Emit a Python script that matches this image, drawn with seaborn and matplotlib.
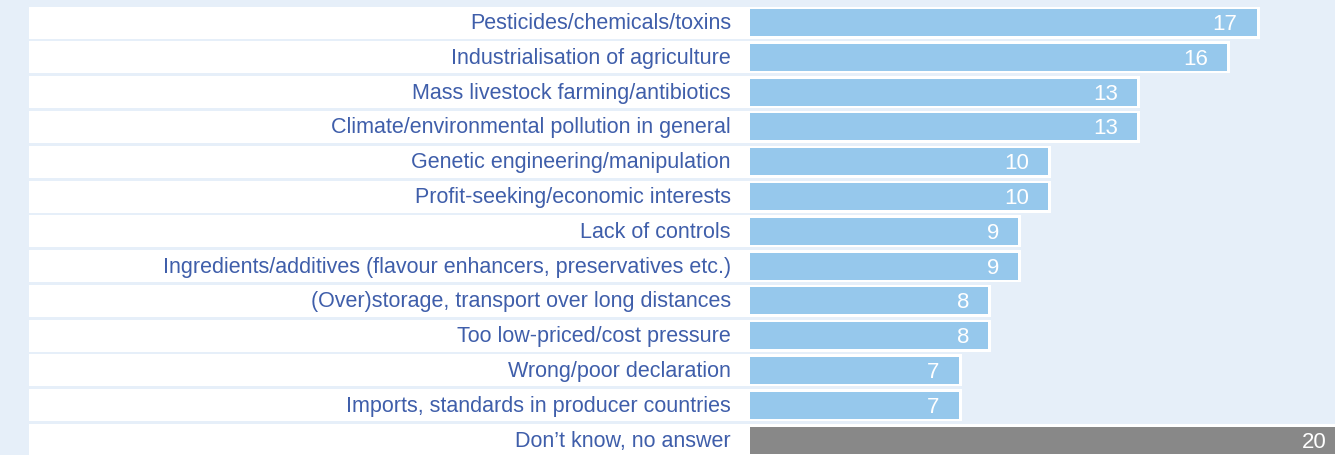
import numpy as np
import pandas as pd
import seaborn as sns
import matplotlib.pyplot as plt

categories = [
    "Pesticides/chemicals/toxins",
    "Industrialisation of agriculture",
    "Mass livestock farming/antibiotics",
    "Climate/environmental pollution in general",
    "Genetic engineering/manipulation",
    "Profit-seeking/economic interests",
    "Lack of controls",
    "Ingredients/additives (flavour enhancers, preservatives etc.)",
    "(Over)storage, transport over long distances",
    "Too low-priced/cost pressure",
    "Wrong/poor declaration",
    "Imports, standards in producer countries",
    "Don\u2019t know, no answer",
]
values = [17, 16, 13, 13, 10, 10, 9, 9, 8, 8, 7, 7, 20]

BG = "#e6eff9"
BLUE = "#96c8ec"
GREY = "#888888"
TEXT = "#3f5eaa"

df = pd.DataFrame({"category": categories, "value": values})
bar_colors = [BLUE] * (len(categories) - 1) + [GREY]

sns.set_style("white")
plt.rcParams["font.family"] = ["Liberation Sans", "DejaVu Sans"]

fig = plt.figure(figsize=(13.35, 4.56), dpi=100)
fig.patch.set_facecolor(BG)
ax = fig.add_axes([0, 0, 1, 1])
ax.set_facecolor(BG)

# pixel mapping: x px = 750 + 29.8*v ; y px = 23.5 + 34.8*i
px_unit = 29.8
row_px = 34.8
band_left = (29 - 750) / px_unit
n = len(categories)

# white row bands behind labels and bars
for i, v in enumerate(values):
    right = v + 3 / px_unit if i < n - 1 else 30
    ax.barh(i, right - band_left, left=band_left, height=32 / row_px,
            color="white", linewidth=0, zorder=1)

sns.barplot(data=df, y="category", x="value", hue="category",
            palette=bar_colors, legend=False, orient="h",
            width=27 / row_px, linewidth=0, saturation=1, ax=ax, zorder=2)

for i, (c, v) in enumerate(zip(categories, values)):
    ax.text(-19 / px_unit, i, c, ha="right", va="center",
            fontsize=15.5, color=TEXT, zorder=3)
    ax.text(v - 19 / px_unit, i + 0.03, str(v), ha="right", va="center",
            fontsize=16, color="white", zorder=3)

ax.set_xlim(-750 / px_unit, 585 / px_unit)
ax.set_ylim((456 - 23.5) / row_px, -23.5 / row_px)
ax.set_axis_off()

fig.savefig("out.png", dpi=100, facecolor=BG)
